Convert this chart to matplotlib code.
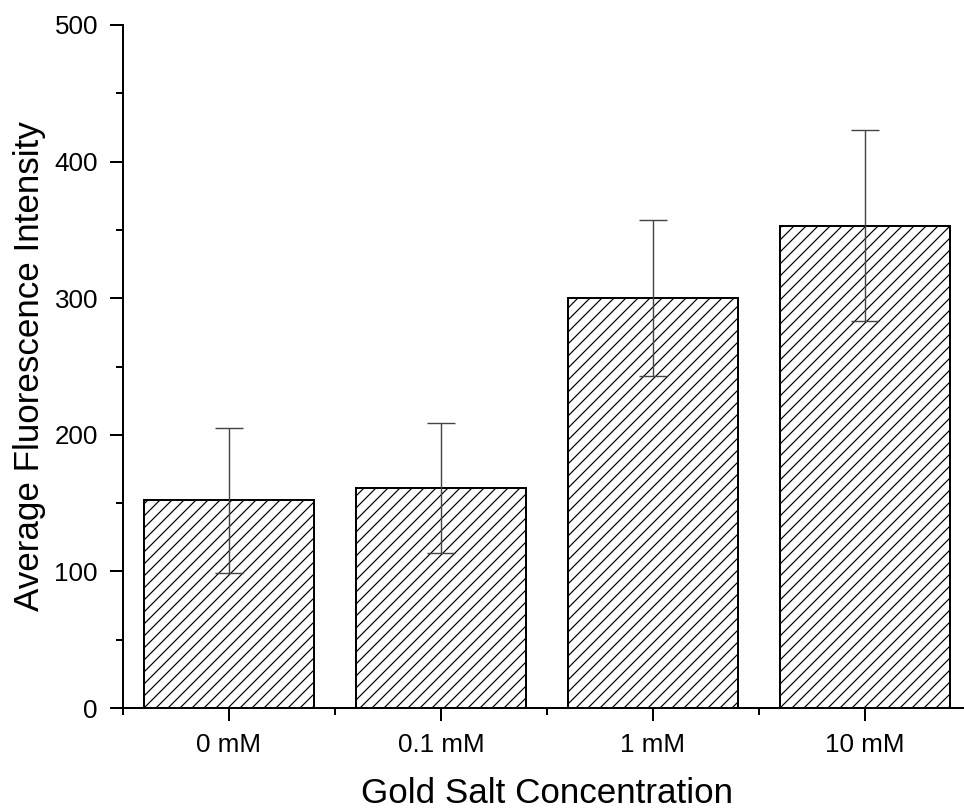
import matplotlib
matplotlib.use("Agg")
import matplotlib.pyplot as plt
from matplotlib.ticker import MultipleLocator, FixedLocator

plt.rcParams['font.family'] = ['Liberation Sans', 'DejaVu Sans']
plt.rcParams['hatch.linewidth'] = 0.6
plt.rcParams['hatch.color'] = '#333333'

categories = ["0 mM", "0.1 mM", "1 mM", "10 mM"]
means = [152, 161, 300, 353]
errors = [53, 47.5, 57, 70]

DPI = 144
fig = plt.figure(figsize=(964 / DPI, 810 / DPI), dpi=DPI)
ax = fig.add_axes([123 / 964, 102 / 810, 848 / 964, 683 / 810])

x = list(range(len(categories)))
ax.bar(x, means, width=0.8, color='white', edgecolor='black', linewidth=1.0,
       hatch='////', zorder=2)
ax.errorbar(x, means, yerr=errors, fmt='none', ecolor='#444444', elinewidth=0.7,
            capsize=7, capthick=0.7, zorder=3)

ax.set_xlim(-0.5, 3.5)
ax.set_ylim(0, 500)
ax.set_xticks(x)
ax.set_xticklabels(categories)
ax.xaxis.set_minor_locator(FixedLocator([-0.5, 0.5, 1.5, 2.5]))
ax.yaxis.set_major_locator(MultipleLocator(100))
ax.yaxis.set_minor_locator(MultipleLocator(50))

for side in ['top', 'right']:
    ax.spines[side].set_visible(False)
for side in ['left', 'bottom']:
    ax.spines[side].set_linewidth(1.0)

ax.tick_params(which='major', direction='out', length=6.5, width=1.0, labelsize=13, pad=6)
ax.tick_params(which='minor', direction='out', length=3.5, width=1.0)

ax.set_xlabel("Gold Salt Concentration", fontsize=17.5, labelpad=10)
ax.set_ylabel("Average Fluorescence Intensity", fontsize=17.5, labelpad=4)

fig.savefig("out.png", dpi=DPI)
